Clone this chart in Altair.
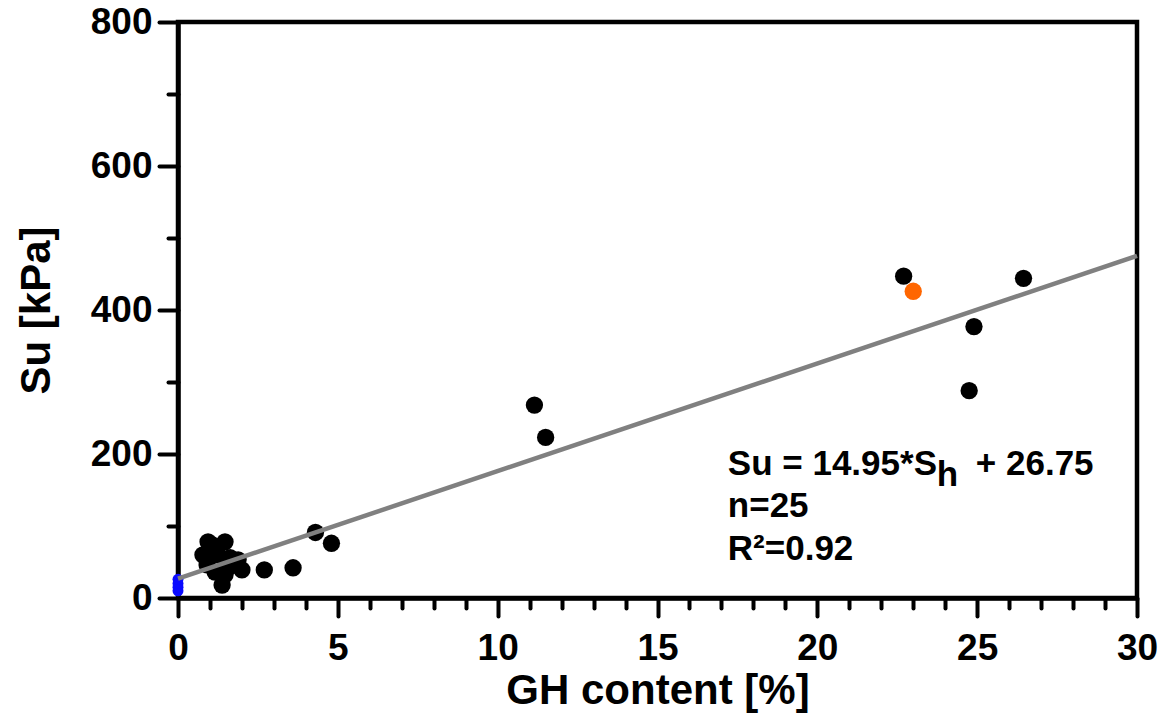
import altair as alt
import pandas as pd

FONT = "Liberation Sans"

# ---- data ----
black_x = [22.7, 26.45, 24.9, 24.75, 11.15, 11.5, 4.3, 4.8, 3.6, 2.7,
           0.94, 1.47, 0.78, 0.91, 1.16, 1.38, 1.47, 1.88, 2.0, 1.63, 1.25, 1.06, 1.56, 1.78]
black_y = [447, 444, 377, 288, 268, 223, 91, 76, 42, 39,
           78, 78, 60, 46, 36, 18, 32, 53, 39, 56, 60, 74, 42, 46]
orange_x = [23.0]
orange_y = [426]
blue_x = [0, 0, 0, 0]
blue_y = [10, 15, 20, 26]
fit_x = [0, 30]
fit_y = [26.75, 475.25]

x_major = [0, 5, 10, 15, 20, 25, 30]
x_minor = [v for v in range(0, 31) if v % 5 != 0]
y_major = [0, 200, 400, 600, 800]
y_minor = [100, 300, 500, 700]

ann_x = [17.2, 17.2, 17.2]
ann_y = [170.8, 112.5, 52.8]
ann_text = ["Su = 14.95*S", "n=25", "R\u00b2=0.92"]
sub_text = ["h"]
tail_text = ["+ 26.75"]

black_df = pd.DataFrame({"x": black_x, "y": black_y})
orange_df = pd.DataFrame({"x": orange_x, "y": orange_y})
blue_df = pd.DataFrame({"x": blue_x, "y": blue_y})
fit_df = pd.DataFrame({"x": fit_x, "y": fit_y})
ann_df = pd.DataFrame({"x": ann_x, "y": ann_y, "t": ann_text})
sub_df = pd.DataFrame({"x": [ann_x[0]], "y": [ann_y[0]], "t": sub_text})
tail_df = pd.DataFrame({"x": [ann_x[0]], "y": [ann_y[0]], "t": tail_text})

xs = alt.Scale(domain=[0, 30], nice=False, zero=False)
ys = alt.Scale(domain=[0, 800], nice=False)

x_major_axis = alt.Axis(values=x_major, title="GH content [%]", tickSize=18, tickWidth=4,
                        tickCap="round", labelFontSize=37, labelFont=FONT, labelFontWeight="bold",
                        labelPadding=14, titleFontSize=42, titleFont=FONT, titleFontWeight="bold",
                        titlePadding=4, grid=False, domainWidth=4.5, domainColor="black",
                        tickColor="black", labelColor="black", titleColor="black",
                        orient="bottom", format="d", labelFlush=False, labelOverlap=False)
y_major_axis = alt.Axis(values=y_major, title="Su [kPa]", tickSize=19, tickWidth=4,
                        tickCap="round", labelFontSize=37, labelFont=FONT, labelFontWeight="bold",
                        labelPadding=7, titleFontSize=42, titleFont=FONT, titleFontWeight="bold",
                        titlePadding=32, grid=False, domainWidth=4.5, domainColor="black",
                        tickColor="black", labelColor="black", titleColor="black",
                        orient="left", format="d", labelFlush=False, labelOverlap=False)
x_minor_axis = alt.Axis(values=x_minor, title=None, labels=False, tickSize=10, tickWidth=4,
                        tickCap="round", grid=False, domain=False, tickColor="black",
                        orient="bottom")
y_minor_axis = alt.Axis(values=y_minor, title=None, labels=False, tickSize=10, tickWidth=4,
                        tickCap="round", grid=False, domain=False, tickColor="black",
                        orient="left")

blue = alt.Chart(blue_df).mark_circle(size=120, color="#0a0aff", opacity=1).encode(
    x=alt.X("x:Q", scale=xs, axis=x_minor_axis),
    y=alt.Y("y:Q", scale=ys, axis=y_minor_axis),
)
black = alt.Chart(black_df).mark_circle(size=300, color="black", opacity=1).encode(
    x=alt.X("x:Q", scale=xs, axis=x_major_axis),
    y=alt.Y("y:Q", scale=ys, axis=y_major_axis),
)
orange = alt.Chart(orange_df).mark_circle(size=300, color="#ff6600", opacity=1).encode(
    x=alt.X("x:Q", scale=xs, axis=None),
    y=alt.Y("y:Q", scale=ys, axis=None),
)
fit = alt.Chart(fit_df).mark_line(color="#808080", strokeWidth=4.5).encode(
    x=alt.X("x:Q", scale=xs, axis=None),
    y=alt.Y("y:Q", scale=ys, axis=None),
)
ann = alt.Chart(ann_df).mark_text(font=FONT, fontWeight="bold", fontSize=35, align="left",
                                  baseline="alphabetic", color="black").encode(
    x=alt.X("x:Q", scale=xs, axis=None),
    y=alt.Y("y:Q", scale=ys, axis=None),
    text="t:N",
)
sub = alt.Chart(sub_df).mark_text(font=FONT, fontWeight="bold", fontSize=35, align="left",
                                  baseline="alphabetic", color="black", dx=209, dy=11).encode(
    x=alt.X("x:Q", scale=xs, axis=None),
    y=alt.Y("y:Q", scale=ys, axis=None),
    text="t:N",
)
tail = alt.Chart(tail_df).mark_text(font=FONT, fontWeight="bold", fontSize=35, align="left",
                                    baseline="alphabetic", color="black", dx=248).encode(
    x=alt.X("x:Q", scale=xs, axis=None),
    y=alt.Y("y:Q", scale=ys, axis=None),
    text="t:N",
)

chart = alt.layer(blue, black, orange, fit, ann, sub, tail).resolve_axis(
    x="independent", y="independent"
).properties(
    width=959, height=576,
    autosize=alt.AutoSizeParams(type="none"),
    padding={"left": 178, "top": 22, "right": 24, "bottom": 120},
    background="white",
).configure_view(stroke="black", strokeWidth=4.5)

chart.save("out.html", embed_options={"renderer": "svg", "actions": False})
